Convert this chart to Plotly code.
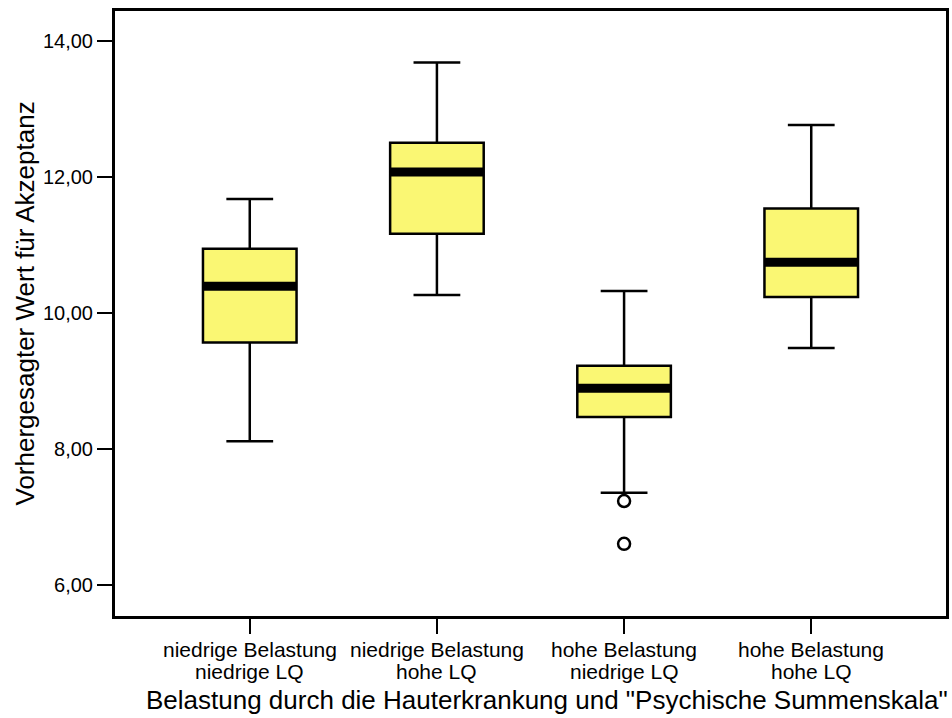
import plotly.graph_objects as go

categories = ["niedrige Belastung<br>niedrige LQ", "niedrige Belastung<br>hohe LQ",
              "hohe Belastung<br>niedrige LQ", "hohe Belastung<br>hohe LQ"]
lower_whisker = [8.12, 10.27, 7.36, 9.49]
q1 = [9.57, 11.17, 8.475, 10.24]
median = [10.40, 12.08, 8.90, 10.75]
q3 = [10.95, 12.51, 9.23, 11.54]
upper_whisker = [11.68, 13.69, 10.33, 12.77]
outlier_group = [2, 2]
outlier_values = [7.24, 6.61]
y_ticks = [6, 8, 10, 12, 14]
x_title = 'Belastung durch die Hauterkrankung und "Psychische Summenskala"'
y_title = "Vorhergesagter Wert für Akzeptanz"

positions = list(range(len(categories)))
box_w = 0.5
fill = "#FAF773"
font = "Liberation Sans, Arial, sans-serif"

fig = go.Figure()
fig.add_trace(go.Box(
    x=positions, q1=q1, median=median, q3=q3,
    lowerfence=lower_whisker, upperfence=upper_whisker,
    width=box_w, whiskerwidth=0.5, fillcolor=fill,
    line=dict(color="black", width=2.5), boxpoints=False,
    showlegend=False, hoverinfo="skip",
))

mx, my = [], []
for p, m in zip(positions, median):
    mx += [p - box_w / 2, p + box_w / 2, None]
    my += [m, m, None]
fig.add_trace(go.Scatter(x=mx, y=my, mode="lines",
                         line=dict(color="black", width=9),
                         showlegend=False, hoverinfo="skip"))

fig.add_trace(go.Scatter(
    x=[positions[g] for g in outlier_group], y=outlier_values, mode="markers",
    marker=dict(symbol="circle-open", size=12, color="black", line=dict(width=2.5)),
    showlegend=False, hoverinfo="skip"))

annotations = []
line_shifts = [-33, -55]
for p, cat in zip(positions, categories):
    for line, shift in zip(cat.split("<br>"), line_shifts):
        annotations.append(dict(
            text=line, xref="x", yref="paper", x=p, y=0,
            xanchor="center", yanchor="middle", yshift=shift,
            showarrow=False, font=dict(family=font, size=21)))
annotations.append(dict(
    text=x_title, xref="paper", yref="paper", x=0.52, y=0,
    xanchor="center", yanchor="middle", yshift=-84, showarrow=False,
    font=dict(family=font, size=26)))
annotations.append(dict(
    text=y_title, xref="paper", yref="paper", x=0, y=0.5165,
    xanchor="center", yanchor="middle", xshift=-90, textangle=-90,
    showarrow=False, font=dict(family=font, size=26)))

fig.update_layout(
    width=952, height=718,
    margin=dict(l=115, r=3, t=11, b=102),
    paper_bgcolor="white", plot_bgcolor="white",
    separators=",.",
    font=dict(family=font, color="black"),
    annotations=annotations,
)
fig.update_xaxes(
    range=[-0.72, 3.72], tickvals=positions, showticklabels=False,
    showgrid=False, zeroline=False,
    showline=True, linecolor="black", linewidth=3, mirror=True,
    ticks="outside", ticklen=15, tickwidth=2, tickcolor="black",
)
fig.update_yaxes(
    range=[5.549, 14.446], tickvals=y_ticks, tickformat=".2f",
    showgrid=False, zeroline=False,
    showline=True, linecolor="black", linewidth=3, mirror=True,
    ticks="outside", ticklen=15, tickwidth=2, tickcolor="black",
    tickfont=dict(family=font, size=20),
)

fig.write_html("out.html")
